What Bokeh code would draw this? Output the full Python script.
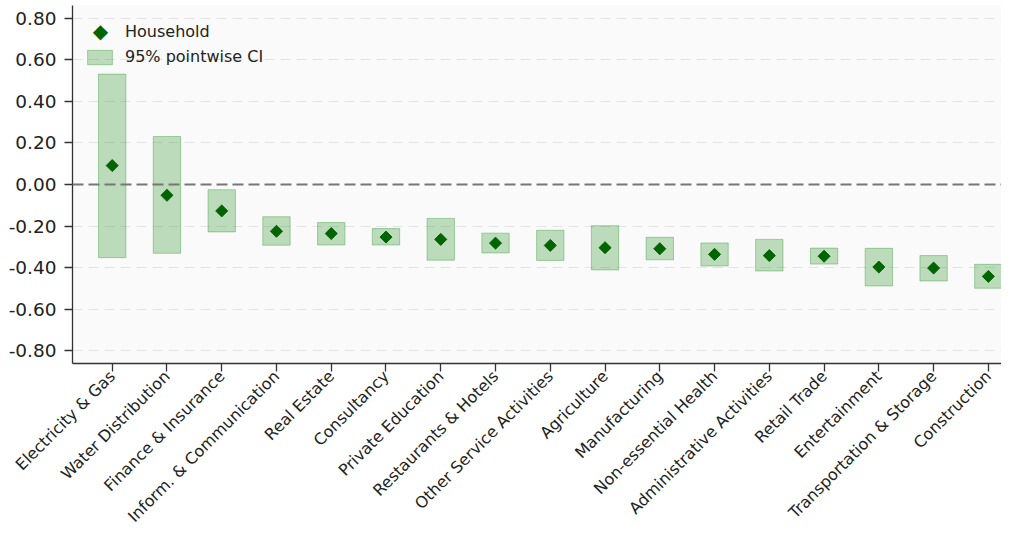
import numpy as np
from bokeh.plotting import figure
from bokeh.models import (ColumnDataSource, FixedTicker, PrintfTickFormatter, Span,
                          Legend, LegendItem, Range1d, Label)
from bokeh.embed import file_html
from bokeh.resources import INLINE

categories = ["Electricity & Gas", "Water Distribution", "Finance & Insurance",
              "Inform. & Communication", "Real Estate", "Consultancy",
              "Private Education", "Restaurants & Hotels", "Other Service Activities",
              "Agriculture", "Manufacturing", "Non-essential Health",
              "Administrative Activities", "Retail Trade", "Entertainment",
              "Transportation & Storage", "Construction"]
estimate = [0.091, -0.052, -0.127, -0.225, -0.236, -0.253, -0.264, -0.282, -0.293,
            -0.304, -0.309, -0.336, -0.342, -0.345, -0.397, -0.402, -0.442]
ci_low = [-0.352, -0.331, -0.228, -0.292, -0.291, -0.291, -0.364, -0.329, -0.365,
          -0.411, -0.362, -0.392, -0.416, -0.383, -0.488, -0.464, -0.499]
ci_high = [0.531, 0.231, -0.025, -0.155, -0.183, -0.212, -0.163, -0.234, -0.220,
           -0.198, -0.254, -0.281, -0.264, -0.306, -0.307, -0.342, -0.384]
y_ticks = [-0.8, -0.6, -0.4, -0.2, 0.0, 0.2, 0.4, 0.6, 0.8]

pos = list(range(len(categories)))
src = ColumnDataSource(dict(x=pos, est=estimate, lo=ci_low, hi=ci_high,
                            left=[i - 0.25 for i in pos], right=[i + 0.25 for i in pos]))

FONT = "DejaVu Sans"
TXT = "#222222"

p = figure(width=1001, height=535, output_backend="svg", toolbar_location=None,
           x_range=Range1d(-0.725, 16.24), y_range=Range1d(-0.861, 0.861),
           min_border_left=72, min_border_top=5, min_border_right=0,
           min_border_bottom=0)
p.background_fill_color = "#fafafa"
p.border_fill_color = "white"
p.outline_line_color = None

# grid
p.xgrid.visible = False
p.ygrid.ticker = FixedTicker(ticks=y_ticks)
p.ygrid.grid_line_color = "#e4e4e4"
p.ygrid.grid_line_dash = "10 6"
p.ygrid.grid_line_width = 1.2

zero = Span(location=0, dimension="width", line_color="#777777", line_width=2,
            line_dash="11 5")
p.add_layout(zero)

boxes = p.quad(left="left", right="right", bottom="lo", top="hi", source=src,
               fill_color="#008000", fill_alpha=0.25,
               line_color="#008000", line_alpha=0.3, line_width=1)
pts = p.scatter(x="x", y="est", source=src, marker="square", angle=np.pi / 4,
                size=8.5, fill_color="#006400", line_color="#006400")
# invisible twin of the points, used only as the legend entry (the diamond is drawn as text)
ghost = p.scatter(x="x", y="est", source=src, marker="square", size=1,
                  fill_alpha=0, line_alpha=0)

# axes
for ax in (p.xaxis[0], p.yaxis[0]):
    ax.axis_line_color = "#333333"
    ax.axis_line_width = 1.3
    ax.major_tick_line_color = "#333333"
    ax.major_tick_line_width = 1.3
    ax.major_tick_out = 8
    ax.major_tick_in = 0
    ax.minor_tick_line_color = None
    ax.major_label_text_font = FONT
    ax.major_label_text_color = TXT

p.yaxis.ticker = FixedTicker(ticks=y_ticks)
p.yaxis.formatter = PrintfTickFormatter(format="%.2f")
p.yaxis.major_label_standoff = 8
p.yaxis.major_label_text_font_size = "18.5px"

p.xaxis.ticker = FixedTicker(ticks=pos)
p.xaxis.major_label_overrides = {i: c for i, c in enumerate(categories)}
p.xaxis.major_label_orientation = np.pi / 4
p.xaxis.major_label_standoff = 2
p.xaxis.major_label_text_font_size = "16px"

legend = Legend(items=[LegendItem(label="Household", renderers=[ghost]),
                       LegendItem(label="95% pointwise CI", renderers=[boxes])],
                location=(12, 297))
legend.label_text_font = FONT
legend.label_text_font_size = "16px"
legend.label_text_color = TXT
legend.border_line_color = None
legend.background_fill_alpha = 0
legend.glyph_width = 31
legend.glyph_height = 18
legend.label_standoff = 10
legend.spacing = 6
legend.padding = 0
legend.margin = 0
p.add_layout(legend)

diamond = Label(x=28, y=333, x_units="screen", y_units="screen", text="\u25c6",
                text_align="center", text_baseline="middle", text_font=FONT,
                text_font_size="20px", text_color="#006400")
p.add_layout(diamond)

open("out.html", "w").write(file_html(p, INLINE))
